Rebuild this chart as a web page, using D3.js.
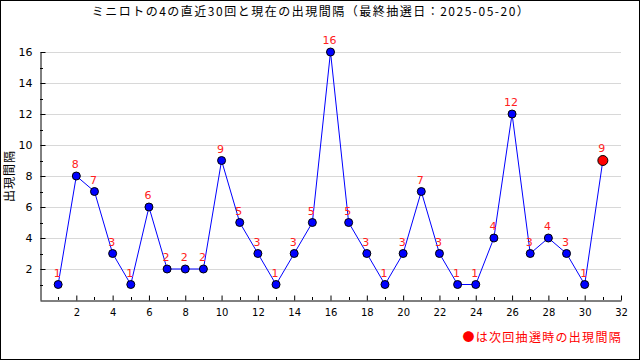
<!DOCTYPE html>
<html><head><meta charset="utf-8">
<script src="https://cdn.jsdelivr.net/npm/d3@7"></script>
<style>body{margin:0;background:#fff}svg{display:block}</style>
</head><body>
<svg id="c" width="640" height="360"></svg>
<script>
const titleText = "ミニロトの4の直近30回と現在の出現間隔（最終抽選日：2025-05-20）";
const yLabel = "出現間隔";
const legendText = "●は次回抽選時の出現間隔";
const draws = d3.range(1, 32);
const gaps = [1,8,7,3,1,6,2,2,2,9,5,3,1,3,5,16,5,3,1,3,7,3,1,1,4,12,3,4,3,1,9];
const xTicks = [2,4,6,8,10,12,14,16,18,20,22,24,26,28,30,32];
const yTicks = [2,4,6,8,10,12,14,16];

const svg = d3.select("#c");
const font = "'DejaVu Sans', sans-serif";
const jfont = "'Noto Sans CJK JP', sans-serif";
svg.append("rect").attr("x",0.5).attr("y",0.5).attr("width",639).attr("height",359)
  .attr("fill","#fff").attr("stroke","#000");

const x = d3.scaleLinear().domain([0,32]).range([40,621]);
const y = d3.scaleLinear().domain([0,16]).range([300,52]);

// gridlines
svg.append("g").selectAll("line").data(yTicks).join("line")
  .attr("x1",40).attr("x2",621).attr("y1",d=>Math.round(y(d))+0.5).attr("y2",d=>Math.round(y(d))+0.5)
  .attr("stroke","#d8d8d8");

// y axis
const yAxis = d3.axisLeft(y).tickValues(yTicks).tickSize(-5).tickPadding(8).tickSizeOuter(0);
const gy = svg.append("g").attr("transform","translate(40.5,0)").call(yAxis);
gy.selectAll("text").attr("font-family",font).attr("font-size",11).attr("fill","#000");
gy.select(".domain").attr("stroke","#000");
gy.selectAll(".tick line").attr("stroke","#000");
svg.append("g").selectAll("line").data(d3.range(1,16,2)).join("line")
  .attr("x1",40).attr("x2",43).attr("y1",d=>Math.round(y(d))+0.5).attr("y2",d=>Math.round(y(d))+0.5)
  .attr("stroke","#000");

// x axis
const xAxis = d3.axisBottom(x).tickValues(xTicks).tickSize(-5).tickPadding(8).tickSizeOuter(0);
const gx = svg.append("g").attr("transform","translate(0,300.5)").call(xAxis);
gx.selectAll("text").attr("font-family",font).attr("font-size",10).attr("fill","#000");
gx.select(".domain").attr("stroke","#000");
gx.selectAll(".tick line").attr("stroke","#000");
svg.append("g").selectAll("line").data(d3.range(1,32,2)).join("line")
  .attr("x1",d=>Math.round(x(d))+0.5).attr("x2",d=>Math.round(x(d))+0.5).attr("y1",300).attr("y2",297)
  .attr("stroke","#000");

// line
const line = d3.line().x((d,i)=>x(draws[i])).y(d=>y(d));
svg.append("path").datum(gaps).attr("d",line).attr("fill","none").attr("stroke","#0000ff").attr("stroke-width",1);

// points
const last = gaps.length-1;
svg.append("g").selectAll("circle").data(gaps).join("circle")
  .attr("cx",(d,i)=>x(draws[i])).attr("cy",d=>y(d))
  .attr("r",(d,i)=>i===last?5:4)
  .attr("fill",(d,i)=>i===last?"#ff0000":"#0000ff").attr("stroke","#000").attr("stroke-width",1);

// value labels
svg.append("g").selectAll("text").data(gaps).join("text")
  .attr("x",(d,i)=>x(draws[i])-1).attr("y",(d,i)=>y(d)-(i===last?9:8))
  .attr("text-anchor","middle").attr("font-family",font).attr("font-size",11)
  .attr("fill","#ff2020").text(d=>d);

// title
svg.append("text").attr("x",311).attr("y",16).attr("text-anchor","middle")
  .attr("font-family",jfont).attr("font-size",12).attr("letter-spacing",1.5).attr("fill","#000").text(titleText);

// y label
svg.append("text").attr("transform","translate(14,176) rotate(-90)").attr("text-anchor","middle")
  .attr("font-family",jfont).attr("font-size",12).attr("letter-spacing",1).attr("fill","#000").text(yLabel);

// legend
svg.append("text").attr("x",622).attr("y",342).attr("text-anchor","end")
  .attr("font-family",jfont).attr("font-size",12).attr("letter-spacing",1.3).attr("fill","#ff0000").text(legendText);
</script>
</body></html>
